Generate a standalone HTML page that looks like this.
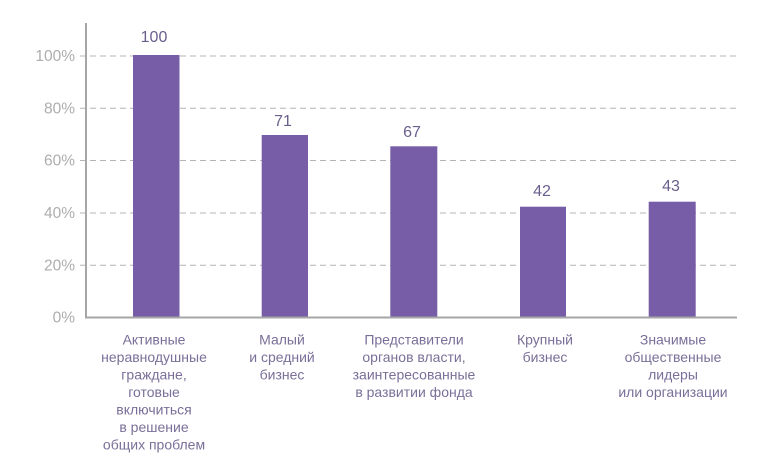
<!DOCTYPE html>
<html><head><meta charset="utf-8"><style>
html,body{margin:0;padding:0;background:#fff;}
svg{display:block;}
.tick{font-family:"Liberation Sans",sans-serif;font-size:15.5px;fill:#adadad;text-anchor:end;}
.val{font-family:"Liberation Sans",sans-serif;font-size:16px;fill:#6a5f8c;text-anchor:middle;}
.cat{font-family:"Liberation Sans","Noto Sans CJK SC",sans-serif;font-size:14px;fill:#7a6f98;text-anchor:middle;}
</style></head><body>
<svg width="768" height="474" viewBox="0 0 768 474" xmlns="http://www.w3.org/2000/svg">
<g stroke="#b4b4b4" stroke-width="1" stroke-dasharray="6 4">
<line x1="80" y1="56" x2="737" y2="56"/>
<line x1="80" y1="108.3" x2="737" y2="108.3"/>
<line x1="80" y1="160.5" x2="737" y2="160.5"/>
<line x1="80" y1="213" x2="737" y2="213"/>
<line x1="80" y1="265.3" x2="737" y2="265.3"/>
</g>
<g class="tick">
<text x="75" y="61">100%</text>
<text x="75" y="113.5">80%</text>
<text x="75" y="165.5">60%</text>
<text x="75" y="218">40%</text>
<text x="75" y="270.5">20%</text>
<text x="75" y="322.5">0%</text>
</g>
<g fill="#775ca8">
<rect x="133" y="55" width="46.5" height="262.5"/>
<rect x="261.7" y="135" width="46.3" height="182.5"/>
<rect x="390.3" y="146.3" width="47" height="171.2"/>
<rect x="520" y="206.7" width="46" height="110.8"/>
<rect x="648.7" y="201.7" width="47" height="115.8"/>
</g>
<line x1="86" y1="23" x2="86" y2="318.5" stroke="#a6a6a6" stroke-width="2"/>
<line x1="85" y1="317.5" x2="737" y2="317.5" stroke="#a6a6a6" stroke-width="2"/>
<g class="val">
<text x="154" y="42">100</text>
<text x="283" y="126">71</text>
<text x="412" y="137">67</text>
<text x="542" y="196">42</text>
<text x="671" y="191">43</text>
</g>
<g class="cat">
<text x="154" y="344.5">Активные</text>
<text x="154" y="362">неравнодушные</text>
<text x="154" y="379.5">граждане,</text>
<text x="154" y="397">готовые</text>
<text x="154" y="414.5">включиться</text>
<text x="154" y="432">в решение</text>
<text x="154" y="449.5">общих проблем</text>
<text x="282" y="344.5">Малый</text>
<text x="282" y="362">и средний</text>
<text x="282" y="379.5">бизнес</text>
<text x="414" y="344.5">Представители</text>
<text x="414" y="362">органов власти,</text>
<text x="414" y="379.5">заинтересованные</text>
<text x="414" y="397">в развитии фонда</text>
<text x="545" y="344.5">Крупный</text>
<text x="545" y="362">бизнес</text>
<text x="673" y="344.5">Значимые</text>
<text x="673" y="362">общественные</text>
<text x="673" y="379.5">лидеры</text>
<text x="673" y="397">или организации</text>
</g>
</svg>
</body></html>
